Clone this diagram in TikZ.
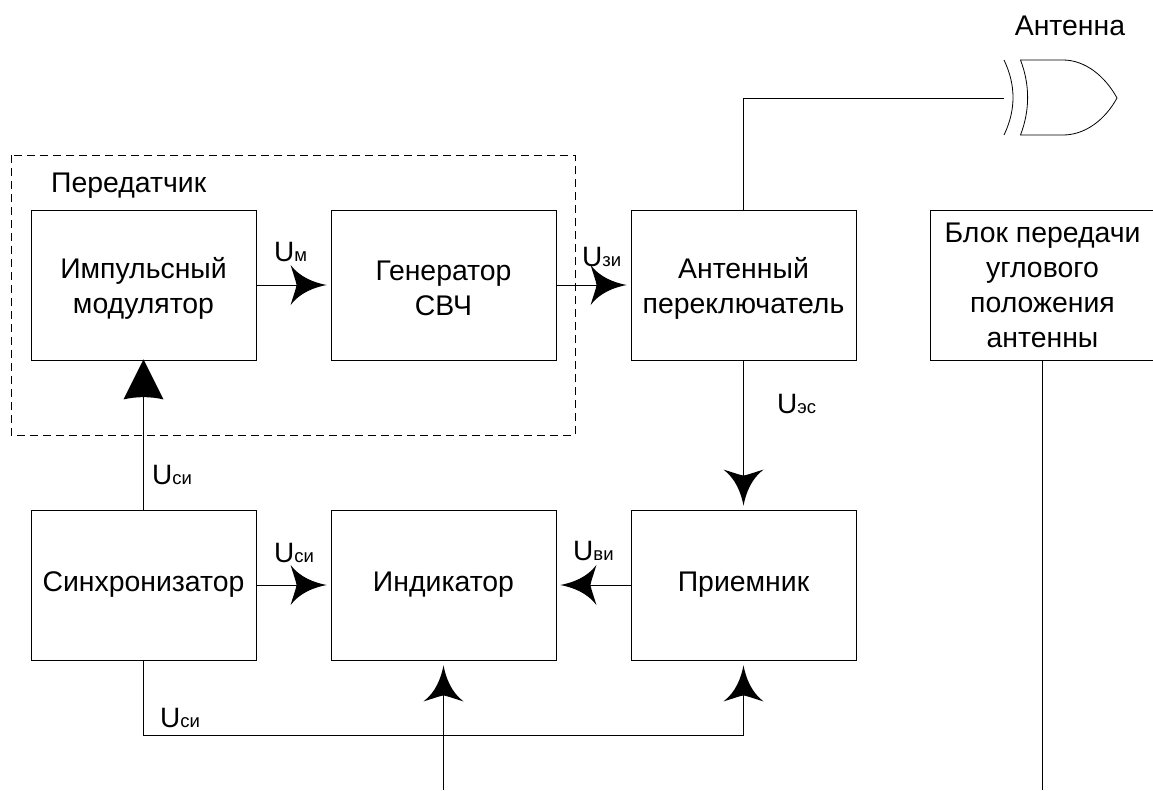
\documentclass[tikz,border=0pt]{standalone}
\usepackage{fontspec}
\setmainfont{Liberation Sans}
\usetikzlibrary{arrows.meta,calc}
\pgfdeclarearrow{
  name=Conc,
  setup code={\pgfarrowssettipend{0pt}\pgfarrowssetlineend{-28pt}\pgfarrowssetbackend{-36pt}\pgfarrowshullpoint{-36pt}{20pt}\pgfarrowshullpoint{-36pt}{-20pt}\pgfarrowshullpoint{0pt}{0pt}},
  drawing code={
    \pgfpathmoveto{\pgfqpoint{0pt}{0pt}}
    \pgfpathcurveto{\pgfqpoint{-13pt}{2.5pt}}{\pgfqpoint{-27pt}{8pt}}{\pgfqpoint{-36pt}{20pt}}
    \pgfpathcurveto{\pgfqpoint{-33pt}{10pt}}{\pgfqpoint{-31pt}{5pt}}{\pgfqpoint{-30pt}{0pt}}
    \pgfpathcurveto{\pgfqpoint{-31pt}{-5pt}}{\pgfqpoint{-33pt}{-10pt}}{\pgfqpoint{-36pt}{-20pt}}
    \pgfpathcurveto{\pgfqpoint{-27pt}{-8pt}}{\pgfqpoint{-13pt}{-2.5pt}}{\pgfqpoint{0pt}{0pt}}
    \pgfpathclose\pgfusepathqfill}
}
\pgfdeclarearrow{
  name=Tria,
  setup code={\pgfarrowssettipend{0pt}\pgfarrowssetlineend{-30pt}\pgfarrowssetbackend{-40pt}\pgfarrowshullpoint{-40pt}{20pt}\pgfarrowshullpoint{-40pt}{-20pt}\pgfarrowshullpoint{0pt}{0pt}},
  drawing code={
    \pgfpathmoveto{\pgfqpoint{0pt}{0pt}}
    \pgfpathlineto{\pgfqpoint{-40pt}{20pt}}
    \pgfpathcurveto{\pgfqpoint{-37pt}{7pt}}{\pgfqpoint{-37pt}{-7pt}}{\pgfqpoint{-40pt}{-20pt}}
    \pgfpathclose\pgfusepathqfill}
}
\tikzset{
  blockbox/.style={draw=black,line width=0.8pt,minimum width=225pt,minimum height=150pt,inner sep=0pt,align=center,font=\fontsize{28.4}{35}\selectfont},
  lbl/.style={inner sep=0pt,anchor=base west,font=\fontsize{28}{32}\selectfont},
  titletext/.style={inner sep=0pt,font=\fontsize{28.4}{35}\selectfont},
  wire/.style={draw=black,line width=1pt},
  arr/.style={wire,-{Conc},shorten >=4pt},
}
\newcommand{\ulab}[1]{U{\fontsize{18.5}{20}\selectfont #1}}
\newcommand{\lowr}{\rule{0pt}{27pt}}
\begin{document}
\begin{tikzpicture}[x=1pt,y=-1pt]
\useasboundingbox (0,0) rectangle (1153,790);
\fill[white] (0,0) rectangle (1153,790);
\node[blockbox] (mod) at (143.5,285) {\lowr Импульсный\\модулятор};
\node[blockbox] (gen) at (443.5,285) {\lowr Генератор\\СВЧ};
\node[blockbox] (sw) at (743.5,285) {\lowr Антенный\\переключатель};
\begin{scope}
\clip (0,0) rectangle (1153,790);
\node[blockbox] (blk) at (1042.5,285) {Блок передачи\\углового\\положения\\антенны};
\end{scope}
\node[blockbox] (syn) at (143.5,585) {Синхронизатор};
\node[blockbox] (ind) at (443.5,585) {Индикатор};
\node[blockbox] (rec) at (743.5,585) {Приемник};
\draw[line width=1pt,dash pattern=on 8pt off 5pt] (11,155) rectangle (575,435);
\node[titletext,anchor=base west] (tx) at (51,192) {Передатчик};
\node[titletext,anchor=base] (antlab) at (1070,35) {Антенна};
% antenna
\coordinate (antin) at (1004,98);
\draw[line width=0.8pt] (1004,60) .. controls (1016,85) and (1016,110) .. (1004,135);
\draw[line width=0.8pt] (1020.5,60) .. controls (1030,85) and (1030,110) .. (1020.5,135)
  -- (1063,135) .. controls (1085,135) and (1105,120) .. (1117,98)
  .. controls (1105,76) and (1085,60) .. (1063,60) -- cycle;
% connectors
\draw[wire] (sw.north) |- (antin);
\draw[arr] (mod.east) -- (gen.west);
\draw[arr] (gen.east) -- (sw.west);
\draw[arr] (sw.south) -- (rec.north);
\draw[wire,-{Tria},shorten >=-1pt] (syn.north) -- (mod.south);
\draw[arr] (syn.east) -- (ind.west);
\draw[arr] (rec.west) -- (ind.east);
\coordinate (bus) at (143.5,735);
\draw[arr,shorten >=5pt] (syn.south) |- (bus) -| (rec.south);
\coordinate (indin) at (443.5,790);
\draw[arr,shorten >=5pt] (indin) -- (ind.south);
\coordinate (blkout) at (1042.5,790);
\draw[wire] (blk.south) -- (blkout);
% labels
\node[lbl] (um) at (274,261) {\ulab{м}};
\node[lbl] (uzi) at (582,266) {\ulab{зи}};
\node[lbl] (ues) at (777,413) {\ulab{эс}};
\node[lbl] (usi1) at (152,484) {\ulab{си}};
\node[lbl] (usi2) at (274,562) {\ulab{си}};
\node[lbl] (uvi) at (573,560) {\ulab{ви}};
\node[lbl] (usi3) at (160,727) {\ulab{си}};
\end{tikzpicture}
\end{document}
